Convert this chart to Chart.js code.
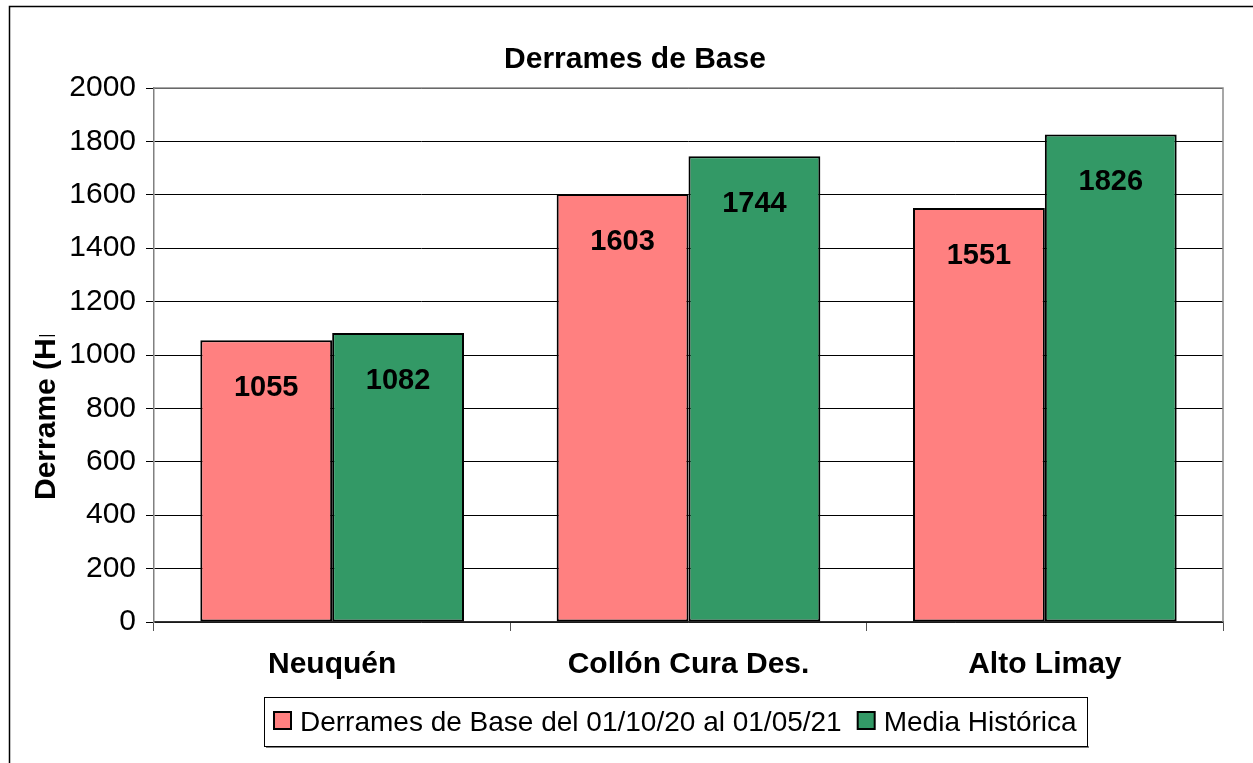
<!DOCTYPE html>
<html>
<head>
<meta charset="utf-8">
<script src="https://cdn.jsdelivr.net/npm/chart.js@4"></script>
<style>
  html, body { margin: 0; padding: 0; background: #fff; }
  #wrap { width: 1253px; height: 763px; }
</style>
</head>
<body>
<div id="wrap"><canvas id="chart" width="1253" height="763"></canvas></div>
<script>
// Chart data
const categories = ["Neuquén", "Collón Cura Des.", "Alto Limay"];
const derramesBase = [1055, 1603, 1551];
const mediaHistorica = [1082, 1744, 1826];
const seriesLabels = ["Derrames de Base del 01/10/20 al 01/05/21", "Media Histórica"];
const yTicks = [0, 200, 400, 600, 800, 1000, 1200, 1400, 1600, 1800, 2000];

const FONT = "'Liberation Sans', Arial, sans-serif";

// White background, outer frame, title, plot border, y title, value labels, legend
const decorPlugin = {
  id: "decor",
  beforeDraw: (chart) => {
    const ctx = chart.ctx;
    ctx.save();
    ctx.fillStyle = "#fff";
    ctx.fillRect(0, 0, chart.width, chart.height);
    ctx.strokeStyle = "#000";
    ctx.lineWidth = 1.5;
    ctx.strokeRect(9.5, 6.5, chart.width + 20, chart.height + 20);
    ctx.restore();
  },
  afterDatasetsDraw: (chart) => {
    const ctx = chart.ctx;
    const area = chart.chartArea;
    ctx.save();
    // plot area border (top + right)
    ctx.strokeStyle = "#8a8a8a";
    ctx.lineWidth = 1.5;
    ctx.beginPath();
    ctx.moveTo(area.left, area.top);
    ctx.lineTo(area.right, area.top);
    ctx.lineTo(area.right, area.bottom);
    ctx.stroke();

    // value labels inside bars
    ctx.fillStyle = "#000";
    ctx.font = "bold 29px " + FONT;
    ctx.textAlign = "center";
    ctx.textBaseline = "middle";
    chart.data.datasets.forEach((ds, i) => {
      chart.getDatasetMeta(i).data.forEach((bar, j) => {
        ctx.fillText(String(ds.data[j]), bar.x, bar.y + 48);
      });
    });
    ctx.restore();
  },
  afterDraw: (chart) => {
    const ctx = chart.ctx;
    ctx.save();
    // title
    ctx.fillStyle = "#000";
    ctx.font = "bold 30px " + FONT;
    ctx.textAlign = "center";
    ctx.textBaseline = "alphabetic";
    ctx.fillText("Derrames de Base", 635, 68);

    // y axis title (clipped, as in the original)
    ctx.save();
    ctx.beginPath();
    ctx.rect(0, 335, 120, 300);
    ctx.clip();
    ctx.translate(55, 500);
    ctx.rotate(-Math.PI / 2);
    ctx.font = "bold 30px " + FONT;
    ctx.textAlign = "left";
    ctx.fillText("Derrame (Hm³)", 0, 0);
    ctx.restore();

    // legend box
    const bx = 264, by = 697, bw = 823, bh = 49;
    ctx.fillStyle = "#808080";
    ctx.fillRect(bx + 2, by + bh, bw, 2);
    ctx.fillStyle = "#fff";
    ctx.fillRect(bx, by, bw, bh);
    ctx.strokeStyle = "#000";
    ctx.lineWidth = 1;
    ctx.strokeRect(bx + 0.5, by + 0.5, bw, bh);

    ctx.font = "28px " + FONT;
    ctx.textAlign = "left";
    let x = 274;
    chart.data.datasets.forEach((ds) => {
      ctx.fillStyle = ds.backgroundColor;
      ctx.fillRect(x, 712, 17, 17);
      ctx.strokeStyle = "#000";
      ctx.lineWidth = 2;
      ctx.strokeRect(x, 712, 17, 17);
      ctx.fillStyle = "#000";
      ctx.fillText(ds.label, x + 26, 731);
      x += 26 + ctx.measureText(ds.label).width + 16;
    });
    ctx.restore();
  },
};

const ctx = document.getElementById("chart").getContext("2d");
new Chart(ctx, {
  type: "bar",
  data: {
    labels: categories,
    datasets: [
      {
        label: seriesLabels[0],
        data: derramesBase,
        backgroundColor: "#FF8080",
        borderColor: "#000",
        borderWidth: 2,
        borderSkipped: false,
      },
      {
        label: seriesLabels[1],
        data: mediaHistorica,
        backgroundColor: "#339966",
        borderColor: "#000",
        borderWidth: 2,
        borderSkipped: false,
      },
    ],
  },
  options: {
    responsive: false,
    animation: false,
    devicePixelRatio: 1,
    categoryPercentage: 0.74,
    barPercentage: 1,
    layout: { padding: { left: 0, top: 88, right: 30, bottom: 81 } },
    plugins: {
      legend: { display: false },
      title: { display: false },
      tooltip: { enabled: false },
    },
    scales: {
      x: {
        afterFit: (scale) => { scale.height = 60; },
        grid: {
          drawOnChartArea: false,
          offset: true,
          tickLength: 9,
          color: "#555",
        },
        border: { color: "#333", width: 1.5 },
        ticks: {
          color: "#000",
          padding: 16,
          font: { family: FONT, size: 30, weight: "bold" },
        },
      },
      y: {
        min: 0,
        max: 2000,
        afterFit: (scale) => { scale.width = 154; },
        afterBuildTicks: (scale) => { scale.ticks = yTicks.map((v) => ({ value: v })); },
        grid: { color: "#000", lineWidth: 1, tickLength: 8 },
        border: { color: "#808080", width: 1.5 },
        ticks: {
          color: "#000",
          padding: 10,
          font: { family: FONT, size: 30 },
          callback: (value) => String(value),
        },
      },
    },
  },
  plugins: [decorPlugin],
});
</script>
</body>
</html>
